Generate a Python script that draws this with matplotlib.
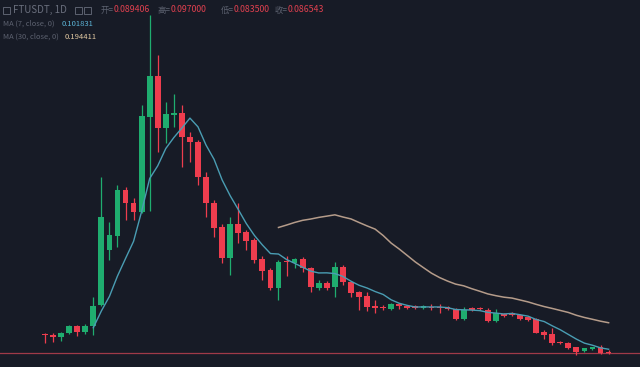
import numpy as np
import pandas as pd
import matplotlib.pyplot as plt
from matplotlib.patches import Rectangle

# 日足データ (FTUSDT, 1D)
opens = [0.1541, 0.1516, 0.1424, 0.1566, 0.1837, 0.1602, 0.1826, 0.2574, 0.4532, 0.5030,
         0.6668, 0.6216, 0.5885, 0.9277, 1.0737, 0.8864, 0.9327, 0.9420, 0.8565, 0.8387,
         0.7141, 0.6216, 0.5361, 0.4236, 0.5457, 0.5183, 0.4888, 0.4211, 0.3820, 0.3168,
         0.4151, 0.4087, 0.4201, 0.3880, 0.3197, 0.3346, 0.3204, 0.3937, 0.3393, 0.3037,
         0.2894, 0.2538, 0.2513, 0.2449, 0.2599, 0.2538, 0.2538, 0.2478, 0.2520, 0.2513,
         0.2492, 0.2421, 0.2065, 0.2456, 0.2478, 0.2407, 0.2015, 0.2243, 0.2300, 0.2218,
         0.2136, 0.2065, 0.1623, 0.1531, 0.1267, 0.1232, 0.1068, 0.0947, 0.1007, 0.1068,
         0.089406]
highs = [0.1577, 0.1588, 0.1613, 0.1862, 0.1862, 0.1897, 0.2869, 0.7141, 0.5539, 0.6846,
         0.6785, 0.6372, 0.9694, 1.2898, 1.1474, 0.9790, 1.0075, 0.9694, 0.8743, 0.8448,
         0.7319, 0.6312, 0.5457, 0.5717, 0.6216, 0.5244, 0.4959, 0.4318, 0.3891, 0.4176,
         0.4336, 0.4247, 0.4283, 0.3937, 0.3464, 0.3428, 0.4115, 0.3998, 0.3428, 0.3072,
         0.3047, 0.2752, 0.2574, 0.2645, 0.2645, 0.2574, 0.2574, 0.2574, 0.2609, 0.2609,
         0.2538, 0.2467, 0.2513, 0.2503, 0.2520, 0.2467, 0.2421, 0.2289, 0.2335, 0.2253,
         0.2164, 0.2111, 0.1684, 0.1744, 0.1292, 0.1257, 0.1096, 0.1061, 0.1096, 0.1150,
         0.097000]
lows = [0.1221, 0.1246, 0.1303, 0.1541, 0.1481, 0.1541, 0.1506, 0.2538, 0.4176, 0.4649,
        0.5600, 0.5600, 0.5849, 0.5920, 0.8031, 0.8330, 0.8921, 0.7497, 0.7675, 0.6846,
        0.5717, 0.5005, 0.4058, 0.3642, 0.4770, 0.4532, 0.4058, 0.3464, 0.3108, 0.2752,
        0.3606, 0.3880, 0.3759, 0.3047, 0.3108, 0.3108, 0.2859, 0.3286, 0.2869, 0.2396,
        0.2360, 0.2289, 0.2396, 0.2396, 0.2431, 0.2431, 0.2431, 0.2431, 0.2396, 0.2278,
        0.2396, 0.2040, 0.2040, 0.2360, 0.2396, 0.1969, 0.1969, 0.2164, 0.2182, 0.2040,
        0.2004, 0.1566, 0.1363, 0.1150, 0.1185, 0.1007, 0.0794, 0.0918, 0.0972, 0.0829,
        0.083500]
closes = [0.1506, 0.1445, 0.1588, 0.1826, 0.1602, 0.1837, 0.2549, 0.5696, 0.5055, 0.6668,
          0.6194, 0.5885, 0.9302, 1.0737, 0.8864, 0.9363, 0.9398, 0.8565, 0.8366, 0.7120,
          0.6194, 0.5304, 0.4236, 0.5457, 0.5148, 0.4863, 0.4176, 0.3795, 0.3168, 0.4115,
          0.4094, 0.4201, 0.3880, 0.3204, 0.3346, 0.3190, 0.3937, 0.3382, 0.3012, 0.2869,
          0.2520, 0.2467, 0.2456, 0.2599, 0.2528, 0.2478, 0.2467, 0.2549, 0.2456, 0.2456,
          0.2421, 0.2065, 0.2407, 0.2396, 0.2421, 0.2015, 0.2278, 0.2193, 0.2218, 0.2075,
          0.2040, 0.1588, 0.1506, 0.1210, 0.1210, 0.1054, 0.0911, 0.1032, 0.1068, 0.0854,
          0.086543]

ma7_value = "0.101831"
ma30_value = "0.194411"

# 色
bg = "#171b26"
up = "#1fad6f"
down = "#ee3d4e"
grey = "#5d6270"

plt.rcParams["font.family"] = ["Noto Sans CJK SC", "DejaVu Sans"]

df = pd.DataFrame({"open": opens, "high": highs, "low": lows, "close": closes})
df["ma7"] = df["close"].rolling(7).mean()
df["ma30"] = df["close"].rolling(30).mean()
x = np.arange(len(df))

fig = plt.figure(figsize=(6.4, 3.67), dpi=100, facecolor=bg)
ax = fig.add_axes([0, 0, 1, 1], facecolor=bg)

# ローソク足
is_up = df["close"] >= df["open"]
colors = np.where(is_up, up, down)
ax.vlines(x, df["low"], df["high"], colors=colors, linewidth=0.9, zorder=2)
body_bottom = np.minimum(df["open"], df["close"])
body_height = np.maximum((df["close"] - df["open"]).abs(), 0.004)
ax.bar(x, body_height, bottom=body_bottom, width=0.72, color=colors, linewidth=0, zorder=3)

# 移動平均線
ax.plot(x, df["ma7"], color="#4a9db3", linewidth=1.0, zorder=4)
ax.plot(x, df["ma30"], color="#b59c8a", linewidth=1.1, zorder=4)

# 最終価格ライン
ax.axhline(closes[-1], color="#a03a48", linewidth=0.9, zorder=1)

ax.set_xlim(-5.59, 73.9)
ax.set_ylim(0.0367, 1.3432)
ax.axis("off")

# ヘッダー
W, H = 640, 367


def put(px, py, s, color, size=6.0):
    fig.text(px / W, 1 - py / H, s, color=color, fontsize=size, ha="left", va="center")


for bx in [3, 75, 84]:
    fig.patches.append(Rectangle((bx / W, 1 - 14 / H), 7 / W, 7 / H, transform=fig.transFigure,
                                 fill=False, edgecolor=grey, linewidth=0.7))
put(13, 10, "FTUSDT, 1D", "#6a6f7d", 7.0)
labels = ["开", "高", "低", "收"]
values = ["0.089406", "0.097000", "0.083500", "0.086543"]
label_x = [101, 158, 221, 275]
for lab, val, lx in zip(labels, values, label_x):
    put(lx, 10, lab + "=", grey)
    put(lx + 13, 10, val, "#e0404f", 6.3)

put(3, 24, "MA (7, close, 0)", grey, 5.4)
put(62, 24, ma7_value, "#5cb4d6", 5.5)
put(3, 37, "MA (30, close, 0)", grey, 5.4)
put(65, 37, ma30_value, "#e2c9a2", 5.5)

plt.savefig("out.png", dpi=100, facecolor=bg)
